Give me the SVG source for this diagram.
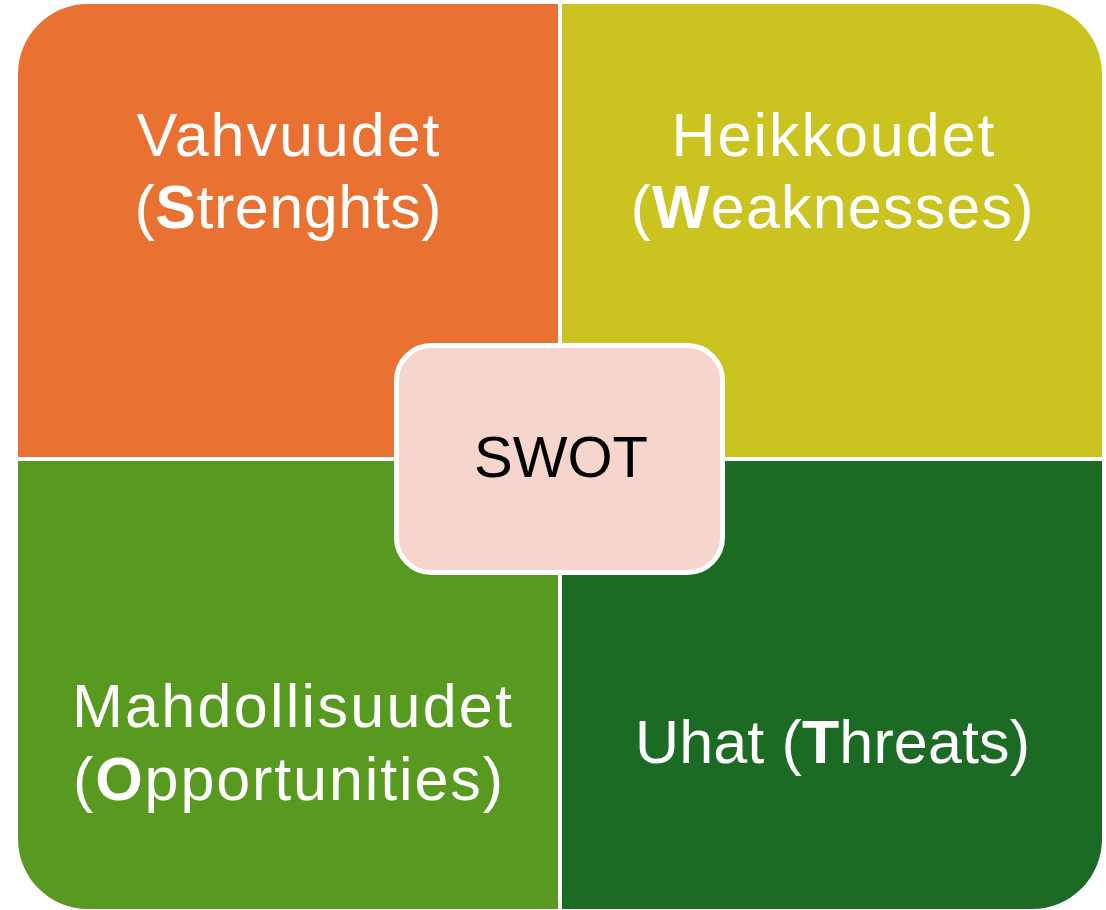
<svg xmlns="http://www.w3.org/2000/svg" width="1106" height="910" viewBox="0 0 1106 910">
  <style>
    .lbl { font-family: "Liberation Sans", Arial, sans-serif; font-size: 61px; fill: #ffffff; text-anchor: middle; }
    .b { font-weight: bold; }
    .center { font-family: "Liberation Sans", Arial, sans-serif; font-size: 58px; fill: #000000; text-anchor: middle; }
  </style>
  <rect width="1106" height="910" fill="#ffffff"/>
  <g id="strengths">
    <path d="M18,457 V74 A70,70 0 0 1 88,4 H558 V457 Z" fill="#E97132"/>
    <text class="lbl" x="288" y="156" textLength="303" lengthAdjust="spacing">Vahvuudet</text>
    <text class="lbl" x="288" y="228" textLength="307" lengthAdjust="spacing">(<tspan class="b">S</tspan>trenghts)</text>
  </g>
  <g id="weaknesses">
    <path d="M562,4 H1032 A70,70 0 0 1 1102,74 V457 H562 Z" fill="#CBC31F"/>
    <text class="lbl" x="833" y="156" textLength="323" lengthAdjust="spacing">Heikkoudet</text>
    <text class="lbl" x="832" y="228" textLength="403" lengthAdjust="spacing">(<tspan class="b">W</tspan>eaknesses)</text>
  </g>
  <g id="opportunities">
    <path d="M18,461 H558 V909 H88 A70,70 0 0 1 18,839 Z" fill="#589A20"/>
    <text class="lbl" x="292" y="727" textLength="440" lengthAdjust="spacing">Mahdollisuudet</text>
    <text class="lbl" x="288" y="800" textLength="430" lengthAdjust="spacing">(<tspan class="b">O</tspan>pportunities)</text>
  </g>
  <g id="threats">
    <path d="M562,461 H1102 V839 A70,70 0 0 1 1032,909 H562 Z" fill="#1B6B25"/>
    <text class="lbl" x="832.5" y="763" textLength="395" lengthAdjust="spacing">Uhat (<tspan class="b">T</tspan>hreats)</text>
  </g>
  <g id="connectors"/>
  <g id="swot">
    <rect x="396.5" y="345.5" width="326" height="227" rx="35" ry="35" fill="#F6D5CC" stroke="#ffffff" stroke-width="5"/>
    <text class="center" x="561" y="477">SWOT</text>
  </g>
</svg>
